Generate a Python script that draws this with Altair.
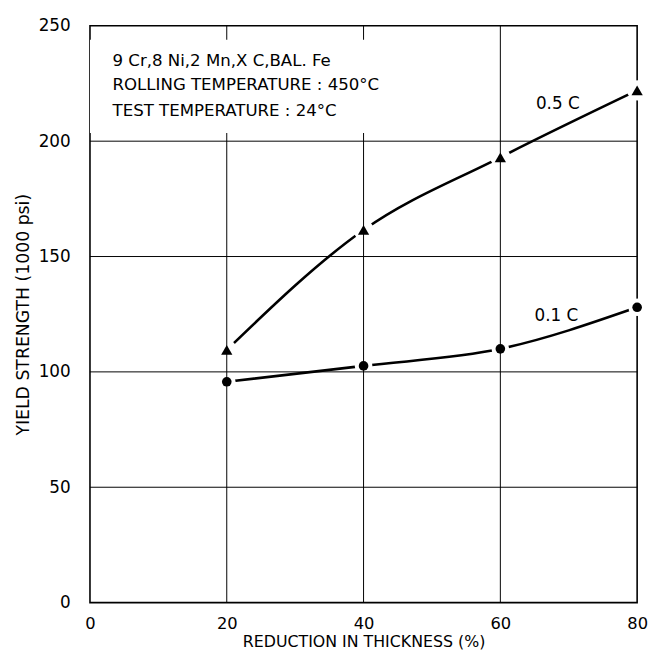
import altair as alt
import pandas as pd

# ---- data ----
reduction = [20, 40, 60, 80]
ys_05C = [109.5, 161.5, 193, 222]
ys_01C = [95.7, 102.6, 110, 128]
series_names = ["0.5 C", "0.1 C"]
series_shapes = ["triangle-up", "circle"]
marker_sizes = [130, 95]
halo_sizes = [420, 320]
x_ticks = [0, 20, 40, 60, 80]
y_ticks = [0, 50, 100, 150, 200, 250]
x_grid = [20, 40, 60]
y_grid = [50, 100, 150, 200]
box_lines = ["9 Cr,8 Ni,2 Mn,X C,BAL. Fe",
             "ROLLING TEMPERATURE : 450°C",
             "TEST TEMPERATURE : 24°C"]
box_line_y = [234.6, 224.2, 213.2]
box_x = 3.3
box_extent_x = [0, 43.5]
box_extent_y = [203.5, 244]
label_x = [68.4, 68.2]
label_y = [216, 124]

FONT = "DejaVu Sans"

pts = pd.DataFrame({
    "x": reduction * 2,
    "y": ys_05C + ys_01C,
    "s": [series_names[0]] * 4 + [series_names[1]] * 4,
})

X = alt.X("x:Q", scale=alt.Scale(domain=[0, 80], nice=False, zero=False),
          axis=alt.Axis(values=x_ticks, grid=False, ticks=False, domain=False,
                        labelFlush=False,
                        labelPadding=13, titlePadding=2, labelFontSize=16.5,
                        titleFontSize=16,
                        title="REDUCTION IN THICKNESS (%)"))
Y = alt.Y("y:Q", scale=alt.Scale(domain=[0, 250], nice=False, zero=False),
          axis=alt.Axis(values=y_ticks, grid=False, ticks=False, domain=False,
                        labelFlush=False,
                        labelPadding=20, titlePadding=6, labelFontSize=17,
                        titleFontSize=17.5,
                        title="YIELD STRENGTH (1000 psi)"))

shape_enc = alt.Shape("s:N", scale=alt.Scale(domain=series_names, range=series_shapes), legend=None)

base = alt.Chart(pts)

lines = base.mark_line(interpolate="monotone", color="black", strokeWidth=2.6).encode(
    x=X, y=Y, detail="s:N")

halo = base.mark_point(filled=True, color="white", opacity=1, shape="circle").encode(
    x="x:Q", y="y:Q",
    size=alt.Size("s:N", scale=alt.Scale(domain=series_names, range=halo_sizes), legend=None))

vgrid = alt.Chart(pd.DataFrame({"g": x_grid})).mark_rule(color="black", strokeWidth=1).encode(x="g:Q")
hgrid = alt.Chart(pd.DataFrame({"g": y_grid})).mark_rule(color="black", strokeWidth=1).encode(y="g:Q")

box = alt.Chart(pd.DataFrame({"x1": [box_extent_x[0]], "x2": [box_extent_x[1]],
                              "y1": [box_extent_y[0]], "y2": [box_extent_y[1]]})).mark_rect(
    color="white", opacity=1).encode(x="x1:Q", x2="x2:Q", y="y1:Q", y2="y2:Q")

box_text = alt.Chart(pd.DataFrame({"t": box_lines, "y": box_line_y, "x": [box_x] * 3})).mark_text(
    align="left", baseline="middle", font=FONT, fontSize=16.8, color="black").encode(
    x="x:Q", y="y:Q", text="t:N")

markers = base.mark_point(filled=True, color="black", opacity=1).encode(
    x="x:Q", y="y:Q", shape=shape_enc,
    size=alt.Size("s:N", scale=alt.Scale(domain=series_names, range=marker_sizes), legend=None))

labels = alt.Chart(pd.DataFrame({"t": series_names, "x": label_x, "y": label_y})).mark_text(
    align="center", baseline="middle", font=FONT, fontSize=17, color="black").encode(
    x="x:Q", y="y:Q", text="t:N")

chart = alt.layer(lines, halo, vgrid, hgrid, box, box_text, markers, labels).resolve_scale(
    size="independent").properties(
    width=648, height=646,
    autosize=alt.AutoSizeParams(type="fit", contains="padding"),
    padding={"left": 6, "top": 5, "right": 0, "bottom": 0},
).configure_view(stroke="black", strokeWidth=1.6).configure_axis(
    labelFont=FONT, labelColor="black",
    titleFont=FONT, titleFontWeight="normal", titleColor="black",
)

chart.save("out.html", embed_options={"renderer": "svg", "actions": False})
